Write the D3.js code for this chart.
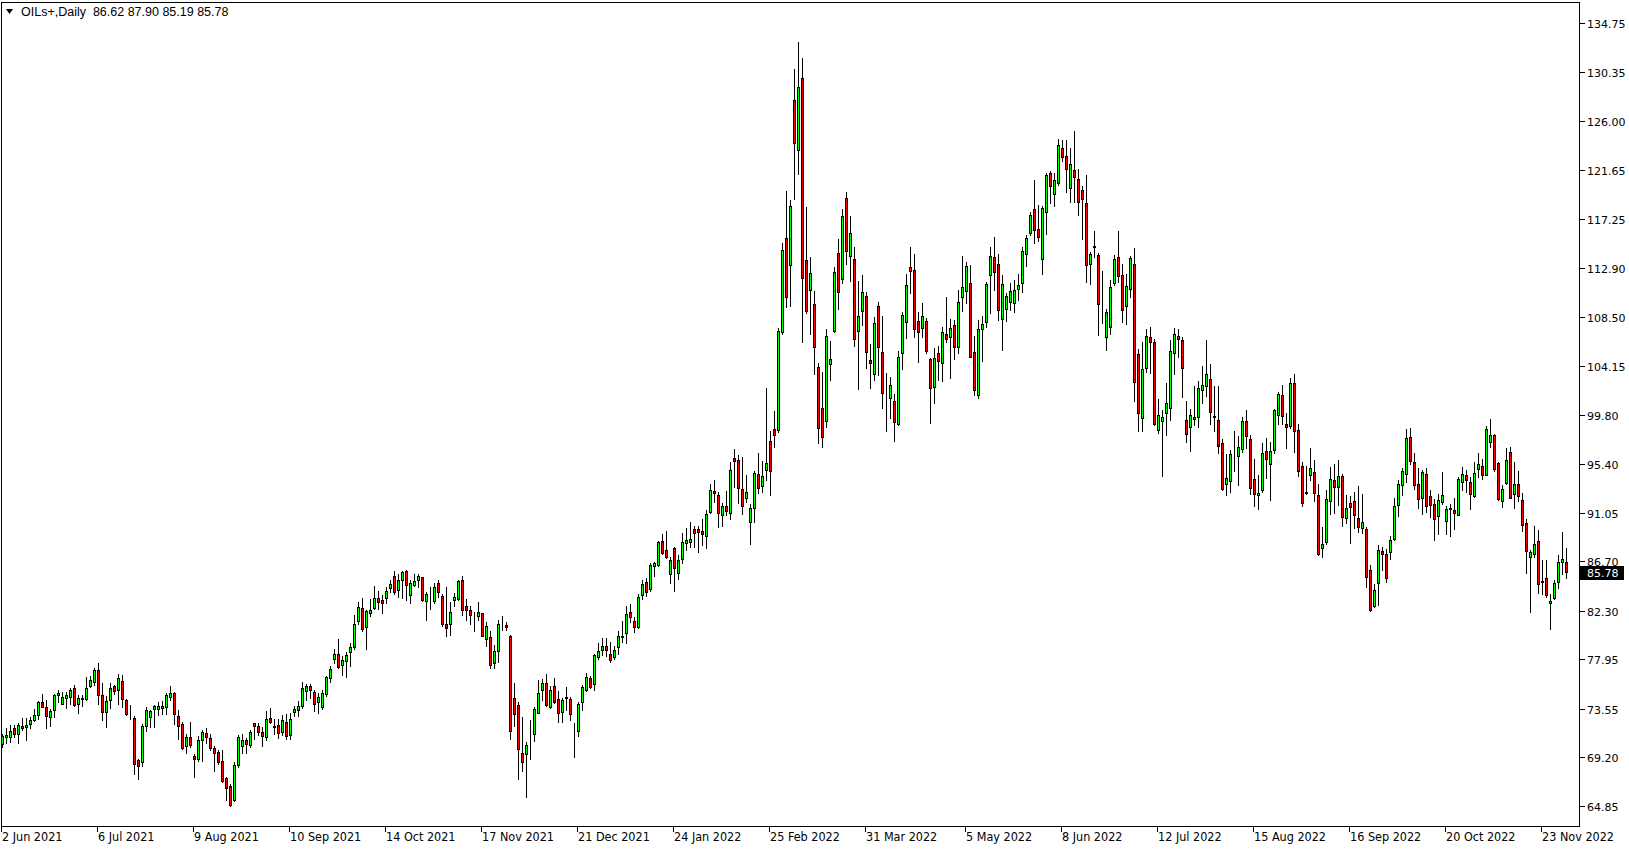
<!DOCTYPE html>
<html><head><meta charset="utf-8">
<script src="https://cdn.jsdelivr.net/npm/d3@7/dist/d3.min.js"></script>
<style>
html,body{margin:0;padding:0;background:#fff;}
svg{display:block;}
</style></head>
<body>
<svg id="c" width="1629" height="850"></svg>
<script>
const symbol = "OILs+,Daily";
const startDate = "2021-06-02";
const dateLabels = ["2 Jun 2021","6 Jul 2021","9 Aug 2021","10 Sep 2021","14 Oct 2021","17 Nov 2021","21 Dec 2021","24 Jan 2022","25 Feb 2022","31 Mar 2022","5 May 2022","8 Jun 2022","12 Jul 2022","15 Aug 2022","16 Sep 2022","20 Oct 2022","23 Nov 2022"];
const priceTicks = [134.75,130.35,126.00,121.65,117.25,112.90,108.50,104.15,99.80,95.40,91.05,86.70,82.30,77.95,73.55,69.20,64.85];

const opens = [70.36,71.02,71.02,71.85,71.29,72.03,71.91,72.21,72.51,73.01,74.17,73.73,72.83,73.46,74.77,74.00,74.53,74.62,75.42,73.97,
74.38,74.44,75.60,75.96,77.03,74.74,73.28,74.32,75.54,75.19,76.05,74.29,73.16,72.75,68.94,68.82,72.03,72.83,73.55,73.52,
73.61,73.73,74.59,74.92,72.89,72.21,70.25,71.05,69.35,69.08,70.70,71.35,70.96,70.01,69.65,68.91,67.33,66.62,65.43,68.55,
70.22,70.70,70.34,72.24,71.98,71.50,71.02,72.69,71.95,72.07,71.47,72.36,71.23,73.20,73.46,73.79,75.16,75.55,75.07,74.15,
73.70,74.86,76.32,77.93,78.46,77.45,77.81,78.61,79.00,81.35,82.57,80.79,82.12,82.54,83.38,83.23,83.43,84.27,85.37,84.12,
85.07,85.87,83.73,84.56,85.07,85.25,83.17,83.58,83.17,84.80,83.64,81.14,81.14,83.26,83.34,85.07,82.66,82.39,82.01,81.83,
82.04,79.80,79.98,77.66,78.73,80.87,81.05,80.07,74.45,73.91,69.54,69.45,69.77,71.29,73.17,75.19,75.87,73.70,75.52,74.36,
73.20,74.54,74.39,72.10,71.56,74.09,75.19,76.29,75.70,78.17,78.82,79.09,78.46,78.17,79.00,80.04,80.25,82.16,81.35,80.85,
83.73,84.83,84.18,86.26,86.38,88.55,87.66,85.52,87.84,85.61,86.86,88.35,88.44,89.60,89.57,89.39,88.97,91.11,92.96,92.57,
90.85,91.62,91.05,95.91,95.73,93.14,92.36,90.22,91.47,94.48,93.41,94.83,97.42,98.47,98.40,107.19,115.52,113.11,127.84,123.38,
129.80,113.58,110.91,109.63,104.00,100.34,99.24,104.27,107.22,114.18,111.86,119.09,113.97,113.64,107.28,109.06,110.37,104.66,103.38,109.48,
105.34,101.47,101.23,100.99,98.91,105.25,108.02,112.93,112.69,108.11,107.48,108.14,104.71,102.28,105.31,104.42,106.95,106.68,107.78,105.79,
110.31,110.84,111.50,105.34,101.50,107.39,108.07,112.21,113.88,113.28,108.37,109.26,109.86,109.77,110.96,111.50,114.09,115.96,118.13,116.35,
113.64,117.90,121.32,119.44,120.48,123.55,122.87,120.04,121.62,120.78,119.83,118.64,113.28,114.80,114.03,109.68,106.68,107.63,111.50,113.85,
112.24,109.53,110.96,113.22,105.16,99.53,103.99,106.68,106.26,98.46,99.23,99.89,100.39,105.33,106.79,106.49,99.29,98.70,99.41,99.59,
102.03,102.36,103.01,99.65,99.29,97.30,93.64,93.88,96.28,96.11,96.76,99.20,97.60,94.08,92.63,93.04,96.52,95.42,96.67,99.80,
101.58,98.99,98.79,102.65,98.46,95.18,92.89,94.44,94.71,92.57,87.92,88.43,92.09,93.99,93.34,94.35,90.60,91.94,92.09,90.60,
89.71,89.56,85.96,82.69,84.77,87.60,87.33,87.54,88.67,91.76,93.55,94.47,97.75,95.60,93.64,92.39,94.47,92.48,91.85,90.78,
92.00,90.28,91.44,91.26,90.87,93.79,94.41,93.79,92.54,94.95,95.19,94.44,97.36,97.96,95.48,92.09,93.70,96.41,92.69,93.64,
92.21,90.13,87.09,87.33,88.52,84.95,85.22,82.93,83.43,84.86,86.65,86.62];

const highs = [71.32,71.85,72.06,72.06,72.30,72.75,72.75,72.81,73.49,74.23,74.83,74.35,73.55,74.83,75.19,75.04,75.04,75.34,75.63,74.74,
74.74,76.38,76.44,77.18,77.66,75.87,74.68,75.84,75.63,76.61,76.55,74.44,73.91,72.86,69.09,72.21,73.70,73.46,73.85,74.14,
74.20,74.98,75.54,75.04,73.40,72.36,71.32,72.33,69.53,71.08,71.62,71.77,71.26,70.25,69.89,69.89,67.45,66.77,68.76,71.17,
71.32,70.96,71.62,72.30,72.27,71.86,73.32,73.58,72.66,72.66,72.96,73.05,73.11,73.76,74.21,75.96,75.70,75.70,75.19,74.95,
75.19,76.47,77.33,78.91,79.80,78.23,78.61,79.42,81.89,83.08,83.38,82.39,83.29,84.48,84.06,83.67,84.36,85.01,85.84,85.60,
85.84,85.96,85.01,85.60,85.60,85.31,83.91,84.36,84.80,85.07,83.82,84.36,83.02,83.88,85.07,85.37,83.29,82.69,82.18,83.02,
82.10,81.26,80.46,79.21,81.44,81.80,81.29,80.13,75.79,74.15,72.81,70.52,72.51,73.70,76.14,76.23,76.62,75.55,76.26,75.10,
74.45,75.46,74.60,72.30,74.15,75.64,76.74,76.44,78.46,79.36,79.89,79.89,79.51,79.12,80.46,81.38,82.69,82.87,81.68,83.82,
85.07,85.16,86.50,86.65,88.53,89.09,89.39,87.10,87.99,87.25,89.18,89.63,90.19,89.86,89.83,90.46,91.26,93.58,93.94,92.84,
91.92,92.96,95.52,96.71,96.17,95.97,94.39,91.77,94.78,96.32,95.67,102.13,98.35,100.10,107.48,115.07,119.74,118.91,130.64,133.05,
131.62,118.35,113.88,110.82,104.42,103.62,107.42,106.35,112.93,115.43,118.11,119.63,117.52,114.72,111.74,112.25,110.76,106.09,108.47,109.87,
108.59,103.47,103.17,101.59,105.49,108.94,112.34,114.75,114.12,108.97,109.72,108.38,104.80,105.70,105.91,107.63,110.31,108.29,108.23,110.91,
113.94,113.43,113.13,106.79,108.22,108.58,111.59,114.77,115.66,114.12,112.24,110.66,111.56,111.79,112.33,114.77,115.81,117.90,120.72,118.49,
118.40,121.38,121.53,121.32,124.38,124.29,124.29,123.55,125.10,121.76,120.19,121.17,114.32,116.17,114.18,112.60,109.20,111.79,114.03,116.17,
113.22,112.33,113.94,114.65,105.69,106.29,107.39,107.57,106.50,101.14,100.24,102.62,106.43,107.48,107.39,106.73,100.99,100.33,102.33,102.77,
104.11,106.43,104.29,102.33,102.33,97.60,96.31,96.67,98.31,97.86,99.59,100.24,97.95,95.81,94.38,97.30,97.74,97.36,100.33,101.82,
102.42,99.95,103.10,103.40,98.93,95.57,95.18,96.85,95.78,93.64,89.77,93.04,95.12,95.42,95.72,94.53,92.60,92.51,92.89,93.40,
92.69,89.77,86.35,84.65,88.13,87.99,87.75,88.94,92.36,93.94,94.98,98.52,98.58,96.32,95.04,94.83,94.98,93.10,92.30,92.69,
94.68,91.62,91.79,92.39,94.18,95.12,94.83,94.24,95.57,96.32,95.87,98.76,99.44,98.10,95.57,93.49,96.85,96.91,95.57,94.77,
92.75,90.51,87.69,89.83,89.48,86.79,86.79,83.76,85.07,87.24,89.32,87.90];

const lows = [70.13,70.48,70.57,71.02,70.48,71.61,70.72,71.85,72.42,72.63,73.70,71.82,71.97,72.80,74.11,73.94,73.61,74.00,73.82,73.16,
73.76,74.35,75.48,75.63,74.00,72.51,71.91,73.64,74.89,74.00,73.70,72.95,72.66,67.75,67.30,68.46,71.55,71.91,71.91,72.95,
73.10,73.10,74.29,72.21,70.87,69.95,69.62,70.13,67.45,68.88,68.88,70.49,69.89,67.99,68.64,67.01,65.37,64.86,65.30,68.34,
69.60,69.60,70.13,70.87,71.17,70.22,70.73,72.27,71.32,70.93,71.17,70.79,70.79,72.90,72.90,73.64,74.30,74.45,73.34,73.11,
73.52,74.68,75.93,77.63,77.18,76.53,76.38,77.36,78.91,81.08,80.46,78.85,81.83,82.48,82.48,82.10,82.99,83.91,83.82,83.52,
83.43,83.23,82.99,84.48,84.42,83.17,81.44,82.42,82.93,83.52,80.90,80.04,80.13,82.72,83.23,81.92,81.44,81.08,80.49,81.44,
80.01,79.15,77.21,77.21,77.72,80.55,80.55,70.87,72.00,67.30,67.99,65.61,69.06,70.67,73.11,74.30,73.76,73.61,74.06,72.36,
72.36,73.40,72.51,69.18,71.11,73.40,75.13,75.34,75.19,77.93,78.32,78.23,77.72,77.93,78.41,79.51,79.42,81.29,80.34,80.70,
83.35,83.61,84.06,85.40,86.26,87.39,86.95,84.77,84.06,85.13,86.56,87.69,87.99,87.99,87.54,88.14,87.90,91.02,92.01,89.77,
89.89,90.82,90.43,93.35,91.92,90.91,91.95,88.23,90.22,92.81,92.90,93.94,92.60,96.92,98.20,106.98,109.36,109.48,119.00,121.23,
106.29,108.88,106.98,103.38,97.28,96.86,98.71,102.87,107.16,109.24,111.56,113.23,111.74,105.94,102.07,107.78,103.91,102.19,102.87,103.32,
100.40,98.32,99.51,97.45,98.85,103.85,106.59,110.61,106.68,104.51,106.68,105.31,99.06,100.79,102.87,102.81,106.29,103.02,104.72,105.31,
109.06,109.77,104.89,101.53,101.23,104.59,107.63,108.88,110.90,108.22,105.60,108.16,109.12,108.97,110.01,110.75,113.07,115.81,115.07,115.30,
112.33,115.90,118.70,118.40,120.28,122.42,119.68,118.79,118.79,117.60,115.51,111.65,111.41,113.88,106.88,107.93,105.60,107.03,111.35,111.65,
108.07,107.87,110.31,101.02,98.34,98.34,103.60,103.51,98.85,98.16,94.29,97.95,99.29,103.40,104.95,101.37,97.36,96.55,98.85,98.70,
100.84,101.43,98.93,98.34,96.37,93.04,92.60,92.89,94.77,93.55,96.46,96.85,92.66,91.61,91.40,92.89,94.17,92.15,96.40,98.93,
98.93,96.82,98.61,96.46,94.29,91.64,92.66,93.99,92.09,87.24,87.09,88.28,90.96,91.02,91.70,89.83,90.13,88.34,89.71,89.32,
89.18,84.41,82.27,82.63,82.78,85.96,84.86,86.94,88.58,90.72,92.60,93.79,95.42,93.13,91.47,90.96,91.11,90.66,88.64,89.09,
91.85,89.12,88.94,89.62,90.81,93.10,92.90,91.32,92.45,94.18,94.03,94.38,96.91,94.77,92.15,91.55,93.64,92.36,91.41,92.06,
89.42,85.66,82.18,87.09,83.88,83.76,83.52,80.69,83.31,84.35,85.60,85.19];

const closes = [71.11,71.23,71.52,71.29,72.06,71.82,72.12,72.51,73.01,74.17,73.73,72.89,73.31,74.74,74.92,74.56,74.74,75.19,73.88,74.47,
74.53,75.42,76.14,76.97,74.80,73.22,74.23,75.42,75.13,76.32,74.41,73.07,73.13,68.64,68.46,72.00,73.46,73.31,73.82,73.76,
73.79,74.74,74.98,73.04,72.03,70.04,71.02,70.33,69.08,70.70,71.47,71.02,70.04,69.54,68.79,67.10,66.47,64.90,68.55,71.05,
70.78,70.37,71.50,72.01,71.47,71.11,72.66,72.36,71.89,71.38,72.57,71.08,72.66,73.49,73.76,75.37,75.55,75.25,73.97,74.56,
74.98,76.35,77.06,78.46,77.27,77.87,78.29,79.03,81.14,82.60,80.61,82.30,82.39,83.46,83.08,82.99,84.00,84.65,83.97,85.01,
85.70,84.62,84.80,84.98,85.34,83.23,83.82,83.61,84.36,83.97,81.08,80.76,82.21,83.55,84.98,82.36,82.33,81.92,81.98,82.21,
80.04,80.96,77.48,78.67,81.14,80.81,80.79,71.59,73.02,69.98,68.82,70.34,69.74,73.55,74.98,75.87,73.85,75.25,74.15,73.11,
74.30,74.48,73.02,72.04,73.94,75.46,76.41,75.43,78.37,78.67,79.09,78.82,77.87,78.82,80.01,79.98,81.95,81.74,80.85,83.47,
84.66,83.97,86.32,86.53,88.41,87.45,87.10,86.77,86.11,86.77,88.38,88.64,88.73,89.18,89.27,89.15,90.88,93.05,92.81,91.02,
91.62,91.20,94.89,95.67,93.20,91.65,92.87,91.47,94.54,93.26,94.30,95.46,94.77,97.96,107.22,114.45,110.25,118.38,124.00,129.00,
111.95,109.06,112.39,105.79,98.56,97.81,106.80,104.71,112.48,110.76,117.49,114.42,115.96,106.50,108.59,110.70,105.40,104.36,107.93,105.85,
101.68,101.41,102.39,99.15,104.89,108.65,111.32,112.60,107.39,107.16,108.59,105.49,102.19,104.80,104.60,107.13,106.56,107.48,105.79,109.87,
111.14,113.04,104.95,102.03,107.39,107.84,111.44,113.94,112.48,109.17,111.41,110.37,110.81,110.90,111.35,114.38,115.57,117.60,116.26,115.66,
118.25,121.17,120.22,120.69,123.85,122.81,121.76,122.15,120.96,118.79,119.00,113.19,114.09,114.74,109.62,109.62,108.91,111.14,113.64,112.15,
109.17,111.26,113.76,102.72,99.89,103.90,106.79,106.29,98.94,99.74,99.59,100.87,105.48,107.03,106.55,103.99,98.10,99.80,99.62,102.21,
102.42,103.46,100.04,99.59,97.00,93.13,94.17,96.23,96.23,96.94,99.20,97.89,93.25,92.69,92.83,96.40,95.84,96.58,100.18,101.67,
99.68,98.64,102.65,98.34,94.77,91.91,92.83,95.06,92.83,87.33,88.28,92.30,94.05,93.34,94.35,90.66,91.49,91.55,90.81,89.77,
90.22,85.25,82.33,84.17,87.69,87.33,85.22,88.58,91.62,93.58,94.77,97.66,95.63,93.55,92.30,94.65,91.67,91.73,90.51,92.21,
92.57,91.32,91.38,91.05,94.06,94.53,93.94,92.66,94.59,95.42,94.44,98.55,97.96,94.92,92.24,93.19,95.78,92.39,93.64,92.54,
89.98,87.63,87.54,88.28,84.71,84.89,83.73,83.14,84.77,86.59,86.92,85.78];

const n = closes.length;

// trading calendar (weekdays) starting at startDate
const parse = d3.timeParse("%Y-%m-%d");
const fmt = d3.timeFormat("%-d %b %Y");
const dates = [];
{
  let d = parse(startDate);
  while (dates.length < n) {
    const wd = d.getDay();
    if (wd !== 0 && wd !== 6) dates.push(new Date(d));
    d = d3.timeDay.offset(d, 1);
  }
}
const bars = d3.range(n).map(i => ({i, date: dates[i], o: opens[i], h: highs[i], l: lows[i], c: closes[i]}));

const svg = d3.select("#c");
const plot = {left: 1, top: 2, right: 1579, bottom: 826};

const x = d3.scaleBand().domain(d3.range(n)).range([0.5, 0.5 + 4 * n]);
const y = d3.scaleLinear().domain([64.85, 134.75]).range([806, 23]);
const cx = i => x(i) + x.bandwidth() / 2;
const snap = v => Math.round(v) + 0.5;

const fontAxis = "'DejaVu Sans', Verdana, sans-serif";

svg.append("rect").attr("width", 1629).attr("height", 850).attr("fill", "#fff");

svg.append("defs").append("clipPath").attr("id", "pc")
  .append("rect").attr("x", plot.left + 0.5).attr("y", plot.top + 0.5)
  .attr("width", plot.right - plot.left).attr("height", plot.bottom - plot.top);

const g = svg.append("g").attr("clip-path", "url(#pc)").attr("shape-rendering", "crispEdges");

// wicks
g.selectAll("line.wick").data(bars).join("line")
  .attr("class", "wick")
  .attr("x1", d => cx(d.i)).attr("x2", d => cx(d.i))
  .attr("y1", d => snap(y(d.h)) - 0.5).attr("y2", d => snap(y(d.l)) + 0.5)
  .attr("stroke", "#000").attr("stroke-width", 1);

// bodies
g.selectAll("rect.body").data(bars).join("rect")
  .attr("class", "body")
  .attr("x", d => cx(d.i) - 1)
  .attr("width", 2)
  .attr("y", d => snap(y(Math.max(d.o, d.c))))
  .attr("height", d => Math.max(0, snap(y(Math.min(d.o, d.c))) - snap(y(Math.max(d.o, d.c)))))
  .attr("fill", d => d.c >= d.o ? "#00ff00" : "#ff0000")
  .attr("stroke", "#000").attr("stroke-width", 1);

// frame
svg.append("rect")
  .attr("x", plot.left + 0.5).attr("y", plot.top + 0.5)
  .attr("width", plot.right - plot.left).attr("height", plot.bottom - plot.top)
  .attr("fill", "none").attr("stroke", "#000").attr("shape-rendering", "crispEdges");

// right price axis
const ya = svg.append("g").attr("shape-rendering", "crispEdges");
priceTicks.forEach(p => {
  const yy = snap(y(p));
  ya.append("line").attr("x1", plot.right + 0.5).attr("x2", plot.right + 5.5)
    .attr("y1", yy).attr("y2", yy).attr("stroke", "#000");
  ya.append("text").attr("x", plot.right + 8).attr("y", yy + 4)
    .attr("font-family", fontAxis).attr("font-size", 11).attr("fill", "#000")
    .text(p.toFixed(2));
});

// bottom date axis
const xa = svg.append("g");
dateLabels.forEach(lbl => {
  const idx = dates.findIndex(d => fmt(d) === lbl);
  if (idx < 0) return;
  const xx = Math.round(x(idx)) + 0.5;
  xa.append("line").attr("x1", xx).attr("x2", xx).attr("y1", plot.bottom + 0.5).attr("y2", plot.bottom + 6)
    .attr("stroke", "#000").attr("shape-rendering", "crispEdges");
  xa.append("text").attr("x", xx + 0.5).attr("y", 841)
    .attr("font-family", "'DejaVu Sans Condensed','DejaVu Sans',sans-serif")
    .style("font-stretch", "condensed")
    .attr("font-size", 12.5).attr("fill", "#000")
    .text(lbl);
});

// current price marker
const last = bars[n - 1];
const ly = snap(y(last.c));
svg.append("rect").attr("x", plot.right + 1).attr("y", ly - 7).attr("width", 44).attr("height", 14)
  .attr("fill", "#000").attr("shape-rendering", "crispEdges");
svg.append("text").attr("x", plot.right + 8).attr("y", ly + 4.5)
  .attr("font-family", fontAxis).attr("font-size", 11).attr("fill", "#fff")
  .text(last.c.toFixed(2));

// header
svg.append("path").attr("d", "M6,9 L13,9 L9.5,14 Z").attr("fill", "#000");
svg.append("text").attr("x", 21).attr("y", 16)
  .attr("font-family", "'Liberation Sans', Arial, sans-serif").attr("font-size", 12.5).attr("fill", "#000")
  .attr("xml:space", "preserve")
  .text(`${symbol}  ${last.o.toFixed(2)} ${last.h.toFixed(2)} ${last.l.toFixed(2)} ${last.c.toFixed(2)}`);
</script>
</body></html>
